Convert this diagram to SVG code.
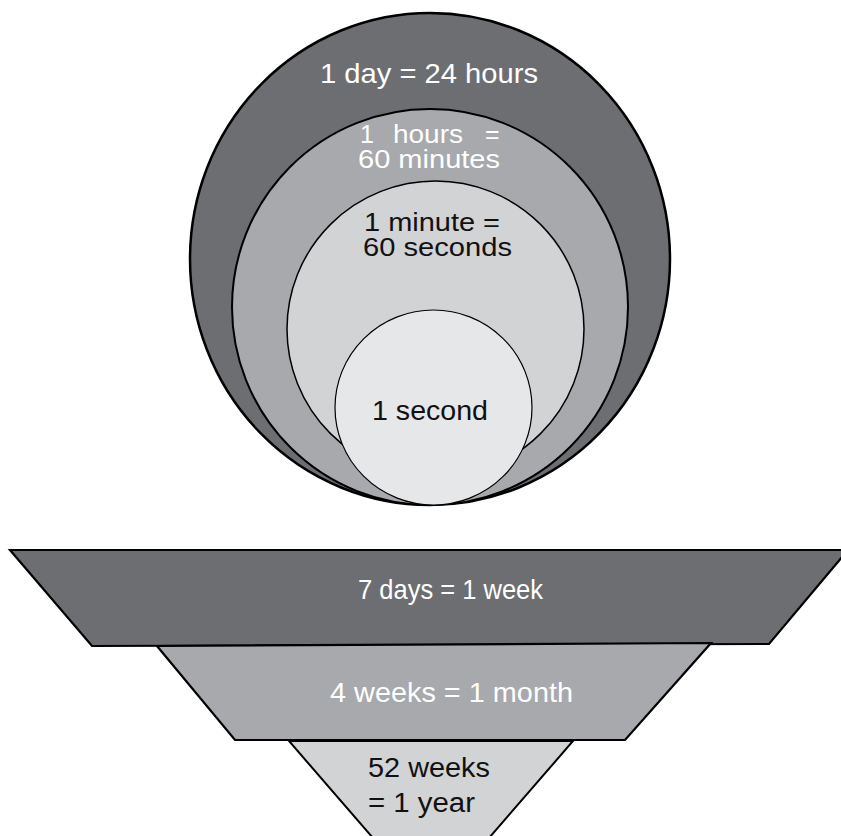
<svg xmlns="http://www.w3.org/2000/svg" width="841" height="836" viewBox="0 0 841 836">
<style>
  text { font-family: "Liberation Sans", Arial, sans-serif; }
  .w { fill: #ffffff; }
  .k { fill: #111111; }
  .c1 { fill: #6d6e71; stroke: #000; stroke-width: 2.5; }
  .c2 { fill: #a7a9ac; stroke: #000; stroke-width: 2; }
  .c3 { fill: #d1d3d4; stroke: #000; stroke-width: 1.5; }
  .c4 { fill: #e6e7e8; stroke: #000; stroke-width: 1.2; }
  .t1 { fill: #6d6e71; stroke: #000; stroke-width: 2.2; stroke-linejoin: miter; }
  .t2 { fill: #a7a9ac; stroke: #000; stroke-width: 2.2; }
  .t3 { fill: #d1d3d4; stroke: #000; stroke-width: 2; }
</style>
<rect width="841" height="836" fill="#ffffff"/>
<g id="day">
  <ellipse class="c1" cx="430" cy="259" rx="240" ry="246"/>
  <text class="w" x="320" y="83" font-size="28" textLength="218" lengthAdjust="spacingAndGlyphs">1 day = 24 hours</text>
</g>
<g id="hour">
  <ellipse class="c2" cx="430" cy="307" rx="198" ry="198"/>
  <text class="w" font-size="25" y="143"><tspan x="360">1</tspan><tspan x="393" textLength="70" lengthAdjust="spacingAndGlyphs">hours</tspan><tspan x="485">=</tspan></text>
  <text class="w" x="358" y="168" font-size="25" textLength="142" lengthAdjust="spacingAndGlyphs">60 minutes</text>
</g>
<g id="minute">
  <ellipse class="c3" cx="435.5" cy="329" rx="148.5" ry="148"/>
  <text class="k" x="364" y="231" font-size="25" textLength="136" lengthAdjust="spacingAndGlyphs">1 minute =</text>
  <text class="k" x="363" y="256" font-size="25" textLength="149" lengthAdjust="spacingAndGlyphs">60 seconds</text>
</g>
<g id="second">
  <ellipse class="c4" cx="433.5" cy="407.5" rx="98.5" ry="97.5"/>
  <text class="k" x="372" y="420" font-size="28" textLength="116" lengthAdjust="spacingAndGlyphs">1 second</text>
</g>
<g id="week">
  <polygon class="t1" points="10,550 848,550 769,644 92,646"/>
  <text class="w" x="358" y="599" font-size="28" textLength="185" lengthAdjust="spacingAndGlyphs">7 days = 1 week</text>
</g>
<g id="month">
  <polygon class="t2" points="157,646 711,643 625,740 235,740"/>
  <text class="w" x="330" y="702" font-size="28" textLength="243" lengthAdjust="spacingAndGlyphs">4 weeks = 1 month</text>
</g>
<g id="year">
  <polygon class="t3" points="289,741 573,741 431,905"/>
  <text class="k" x="368" y="777" font-size="27" textLength="122" lengthAdjust="spacingAndGlyphs">52 weeks</text>
  <text class="k" x="368" y="812" font-size="27" textLength="107" lengthAdjust="spacingAndGlyphs">= 1 year</text>
</g>
<g id="connectors"/>
</svg>
